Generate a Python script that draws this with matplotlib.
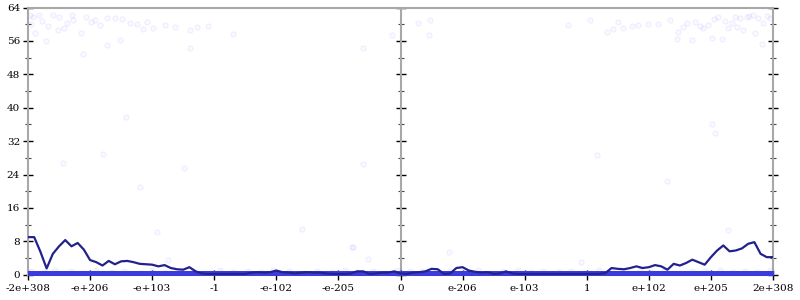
import matplotlib.pyplot as plt
import numpy as np

# tick positions / labels (evenly spaced "exponent" scale)
tick_labels = ['-2e+308', '-e+206', '-e+103', '-1', '-e-102', '-e-205', '0',
               'e-206', 'e-103', '1', 'e+102', 'e+205', '2e+308']

# dark line, sampled every 0.1 tick units
line_y = [9.0, 9.0, 5.5, 1.5, 5.0, 6.8, 8.3, 6.8, 7.6, 6.0,
          3.5, 3.0, 2.2, 3.3, 2.5, 3.2, 3.3, 3.0, 2.6, 2.5,
          2.4, 2.0, 2.3, 1.6, 1.3, 1.2, 1.8, 0.8, 0.3, 0.2,
          0.2, 0.2, 0.2, 0.2, 0.2, 0.2, 0.5, 0.6, 0.5, 0.6,
          1.0, 0.6, 0.5, 0.3, 0.5, 0.6, 0.5, 0.5, 0.3, 0.2,
          0.2, 0.2, 0.3, 0.8, 0.8, 0.2, 0.3, 0.5, 0.5, 0.8,
          0.3, 0.2, 0.5, 0.6, 0.8, 1.4, 1.3, 0.2, 0.3, 1.6,
          1.8, 1.0, 0.7, 0.5, 0.6, 0.2, 0.3, 0.8, 0.3, 0.2,
          0.2, 0.2, 0.2, 0.2, 0.2, 0.2, 0.2, 0.2, 0.2, 0.2,
          0.2, 0.2, 0.2, 0.4, 1.6, 1.4, 1.3, 1.6, 2.0, 1.6,
          1.8, 2.3, 2.0, 1.2, 2.6, 2.2, 2.8, 3.6, 3.0, 2.4,
          4.2, 5.8, 7.0, 5.6, 5.8, 6.3, 7.4, 7.8, 5.0, 4.2,
          4.2]

# faint points near the top
top_x = [0.03, 0.08, 0.18, 0.40, 0.50, 0.71, 0.73, 0.93, 1.08, 1.27,
         1.40, 1.51, 1.64, 1.76, 1.92, 2.01, 2.21, 2.37, 2.61, 2.72,
         0.11, 0.29, 0.88, 1.27, 1.48, 2.61, 0.85, 1.16, 0.48, 0.63,
         0.05, 0.22, 0.33, 0.58, 1.02, 1.85, 2.90, 3.30, 5.40, 5.86,
         6.28, 6.48, 6.46,
         9.33, 9.42, 9.58, 9.73, 9.83, 9.99, 10.15, 10.34, 10.47, 10.62,
         10.74, 10.83, 10.95, 11.11, 11.23, 11.34, 11.47, 11.58, 11.68, 11.76,
         11.84, 10.45, 10.70, 11.02, 11.18, 11.71, 11.82, 11.28, 11.42, 11.52,
         10.55, 11.90, 11.95, 11.62, 11.38, 11.05, 10.88, 9.50, 9.05, 8.70]
top_y = [62.2, 61.7, 62.2, 62.2, 61.7, 62.2, 61.0, 61.7, 61.0, 61.4,
         61.4, 61.2, 60.3, 60.0, 60.5, 59.1, 59.8, 59.3, 58.6, 59.3,
         57.9, 56.0, 52.9, 55.0, 56.2, 54.3, 57.9, 59.8, 58.6, 60.3,
         60.0, 60.8, 59.6, 59.1, 60.5, 58.8, 59.5, 57.6, 54.3, 57.4,
         60.3, 61.0, 57.4,
         58.1, 58.8, 59.1, 59.6, 59.8, 60.0, 60.0, 61.0, 58.1, 60.3,
         60.5, 59.6, 59.8, 61.7, 60.8, 60.3, 61.4, 61.7, 62.2, 61.4,
         60.3, 56.4, 56.2, 56.7, 56.4, 57.9, 55.2, 59.1, 59.3, 58.6,
         59.3, 62.0, 61.5, 62.0, 61.8, 61.2, 59.0, 60.5, 61.0, 59.8]

# scattered points in the middle
mid_x = [2.08, 2.26, 4.41, 5.22, 5.48, 6.78, 5.40, 5.24, 1.58, 2.51,
         1.21, 0.56, 9.17, 11.02, 11.07, 11.28, 1.80, 10.30, 8.90]
mid_y = [10.2, 3.5, 11.0, 6.6, 3.7, 5.4, 26.5, 6.6, 37.8, 25.5,
         28.9, 26.7, 28.7, 36.1, 33.9, 10.7, 21.0, 22.5, 3.0]

# dense row of points sitting on zero
zero_x = [0.0, 0.12, 0.2, 0.31, 0.4, 0.47, 0.58, 0.66, 0.75, 0.83, 0.95, 1.02,
          1.14, 1.22, 1.3, 1.41, 1.49, 1.6, 1.68, 1.77, 1.86, 1.95, 2.05, 2.13,
          2.24, 2.31, 2.42, 2.5, 2.61, 2.7, 2.78, 2.88, 2.97, 3.06, 3.15, 3.23,
          3.34, 3.42, 3.51, 3.6, 3.7, 3.79, 3.88, 3.96, 4.07, 4.15, 4.24, 4.33,
          4.41, 4.52, 4.6, 4.7, 4.78, 4.87, 4.96, 5.05, 5.14, 5.22, 5.33, 5.41,
          5.5, 5.6, 5.68, 5.77, 5.87, 5.95, 6.04, 6.13, 6.22, 6.3, 6.4, 6.49,
          6.58, 6.67, 6.76, 6.85, 6.93, 7.03, 7.12, 7.2, 7.3, 7.39, 7.48, 7.57,
          7.66, 7.74, 7.84, 7.93, 8.02, 8.11, 8.2, 8.29, 8.38, 8.47, 8.56, 8.65,
          8.74, 8.83, 8.92, 9.01, 9.1, 9.19, 9.28, 9.37, 9.46, 9.55, 9.64, 9.73,
          9.82, 9.91, 10.0, 10.09, 10.18, 10.27, 10.36, 10.45, 10.54, 10.63,
          10.72, 10.81, 10.9, 10.99, 11.08, 11.17, 11.26, 11.35, 11.44, 11.53,
          11.62, 11.71, 11.8, 11.89, 11.98]

# low band just above zero
low_x = [0.05, 0.25, 0.44, 0.7, 0.9, 1.1, 1.35, 1.55, 1.8, 2.0, 2.2, 2.45,
         2.65, 2.85, 3.1, 3.3, 3.55, 3.75, 3.95, 4.2, 4.45, 4.65, 4.9, 5.1,
         5.3, 5.55, 5.75, 5.95, 6.15, 6.35, 6.6, 6.8, 7.0, 7.25, 7.45, 7.65,
         7.9, 8.1, 8.3, 8.55, 8.75, 8.95, 9.2, 9.4, 9.6, 9.85, 10.05, 10.25,
         10.5, 10.7, 10.9, 11.15, 11.35, 11.55, 11.75, 11.95]
low_y = [1.0, 0.6, 1.2, 0.8, 0.5, 1.1, 0.7, 0.9, 0.5, 1.2, 0.6, 1.0,
         0.8, 0.5, 1.1, 0.7, 0.9, 0.6, 1.2, 0.8, 0.5, 1.0, 0.7, 1.1,
         0.6, 0.9, 0.5, 1.2, 0.8, 1.0, 0.6, 0.9, 0.7, 1.1, 0.5, 0.8,
         1.2, 0.6, 1.0, 0.7, 0.9, 0.5, 1.1, 0.8, 0.6, 1.2, 0.7, 1.0,
         0.5, 0.9, 0.8, 1.1, 0.6, 1.0, 0.7, 1.2]

fig = plt.figure(figsize=(8, 3), dpi=100)
ax = fig.add_axes([28 / 800, 25.3 / 300, 745 / 800, 267.2 / 300])

pt = dict(marker='o', s=14, linewidths=0.8, clip_on=True)
faint_face = (0.25, 0.25, 1, 0.03)
faint_edge = (0.25, 0.25, 1, 0.07)
ax.scatter(top_x, top_y, facecolor=faint_face, edgecolor=faint_edge, **pt)
ax.scatter(mid_x, mid_y, facecolor=faint_face, edgecolor=faint_edge, **pt)
ax.scatter(low_x, low_y, facecolor=(0.3, 0.3, 1, 0.05), edgecolor=(0.3, 0.3, 1, 0.06), **pt)
ax.scatter(zero_x, np.zeros(len(zero_x)), marker='s', s=40, linewidths=0,
           facecolor='#3c3cdc', zorder=3, clip_on=True)

x = np.arange(len(line_y)) / 10
ax.plot(x, line_y, color='#22228c', lw=1.6, zorder=4, solid_joinstyle='round')

ax.set_xlim(0, 12)
ax.set_ylim(0, 64)

gray = '#a8a8a8'
for s in ax.spines.values():
    s.set_color(gray)
    s.set_linewidth(1.5)

ax.set_xticks(range(13))
ax.set_xticklabels(tick_labels, family='DejaVu Serif', fontsize=7.5)
ax.set_yticks(range(0, 65, 8))
ax.set_yticks(range(4, 64, 8), minor=True)
ax.set_yticklabels([str(v) for v in range(0, 65, 8)], family='DejaVu Serif', fontsize=7.5)
ax.tick_params(axis='both', which='major', direction='inout', length=7.5, width=1,
               color='black', pad=2, top=False, right=True, labelright=False)
ax.tick_params(axis='both', which='minor', direction='inout', length=4.5, width=0.8,
               color='#444444', right=True)
ax.tick_params(axis='x', pad=3)

# centre axis with its own ticks
mid = ax.secondary_yaxis(0.5)
mid.set_yticks(range(0, 65, 8))
mid.set_yticks(range(4, 64, 8), minor=True)
mid.tick_params(which='major', direction='inout', length=7.5, width=1, color='black',
                labelleft=False, labelright=False)
mid.tick_params(which='minor', direction='inout', length=4.5, width=0.8, color='#444444')
for side in ['left', 'right']:
    mid.spines[side].set_color(gray)
    mid.spines[side].set_linewidth(1.5)

fig.savefig('out.png', dpi=100)
